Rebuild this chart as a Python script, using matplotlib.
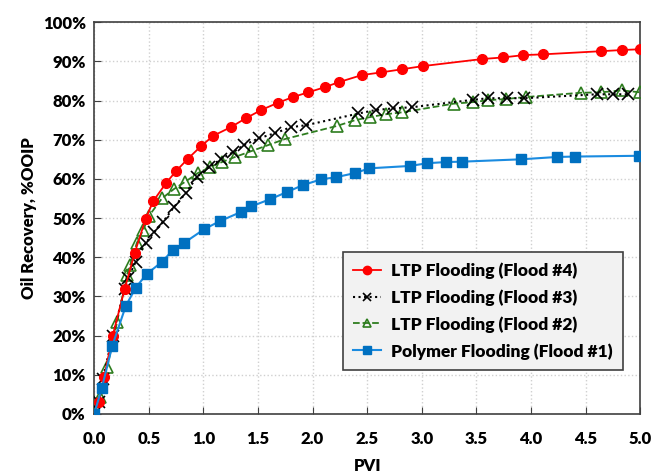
import matplotlib.pyplot as plt
from matplotlib.ticker import MultipleLocator, FuncFormatter

plt.rcParams['font.family'] = ['Lato', 'DejaVu Sans']
plt.rcParams['font.weight'] = 'heavy'

# Flood #4 (LTP)
pvi_4 = [0, 0.04, 0.09, 0.17, 0.28, 0.37, 0.47, 0.54, 0.66, 0.75, 0.86, 0.98, 1.09,
         1.25, 1.39, 1.53, 1.68, 1.82, 1.96, 2.11, 2.24, 2.45, 2.63, 2.82, 3.01,
         3.55, 3.74, 3.93, 4.11, 4.64, 4.83, 5.0]
rec_4 = [0, 3, 9.3, 20, 32, 41, 49.7, 54.3, 59, 62, 65.2, 68.4, 71,
         73.2, 75.5, 77.6, 79.4, 80.9, 82.1, 83.4, 84.7, 86.5, 87.2, 88, 88.8,
         90.6, 91, 91.6, 91.8, 92.6, 92.9, 93.1]

# Flood #3 (LTP)
pvi_3 = [0, 0.04, 0.08, 0.17, 0.28, 0.31, 0.38, 0.47, 0.55, 0.63, 0.73, 0.84, 0.94,
         1.05, 1.16, 1.27, 1.37, 1.51, 1.66, 1.80, 1.94, 2.42, 2.58, 2.74, 2.91,
         3.47, 3.61, 3.78, 3.94, 4.60, 4.75, 4.89]
rec_3 = [0, 3, 9, 20, 32, 34.7, 38.8, 43.6, 46.4, 49, 52.8, 56.4, 60.5,
         63, 65, 66.8, 68.6, 70.4, 71.7, 73.2, 73.7, 76.7, 77.6, 78, 78.3,
         80.2, 80.6, 80.6, 80.6, 81.6, 81.6, 81.6]

# Flood #2 (LTP)
pvi_2 = [0, 0.055, 0.12, 0.21, 0.30, 0.33, 0.39, 0.45, 0.50, 0.62, 0.73, 0.83, 0.95,
         1.06, 1.17, 1.29, 1.44, 1.59, 1.75, 2.22, 2.39, 2.53, 2.67, 2.82, 3.29,
         3.47, 3.61, 3.77, 3.95, 4.46, 4.64, 4.83, 5.0]
rec_2 = [0, 4.3, 12, 23.5, 35.5, 38, 43.6, 47, 50.5, 55, 57.4, 59.2, 61.5,
         63, 64.3, 65.6, 67.1, 68.6, 70.2, 73.5, 75, 75.8, 76.5, 77, 79.2,
         79.6, 80.1, 80.4, 80.9, 82, 82.1, 82.6, 82.1]

# Flood #1 (Polymer)
pvi_1 = [0, 0.07, 0.165, 0.29, 0.38, 0.48, 0.62, 0.72, 0.82, 1.01, 1.15, 1.34, 1.44,
         1.61, 1.77, 1.91, 2.08, 2.21, 2.39, 2.52, 2.89, 3.05, 3.22, 3.37, 3.91,
         4.24, 4.40, 4.99]
rec_1 = [0, 6.6, 17.3, 27.6, 32.2, 35.7, 38.8, 41.8, 43.6, 47.2, 49.2, 51.5, 53,
         54.8, 56.7, 58.4, 59.9, 60.4, 61.5, 62.7, 63.3, 64, 64.3, 64.4, 65,
         65.6, 65.7, 65.9]

fig = plt.figure(figsize=(6.54, 4.73), dpi=100)
ax = fig.add_axes([0.144, 0.125, 0.835, 0.828])

ax.plot(pvi_4, rec_4, color='#ff0000', lw=1.3, marker='o', ms=7, mfc='#ff0000',
        mec='#ff0000', label='LTP Flooding (Flood #4)', zorder=5)
ax.plot(pvi_3, rec_3, color='black', lw=1.5, ls=':', marker='x', ms=8, mew=1.2,
        label='LTP Flooding (Flood #3)', zorder=4)
ax.plot(pvi_2, rec_2, color='#2e7d1f', lw=1.3, ls='--', marker='^', ms=8, mfc='none',
        mec='#2e7d1f', mew=1.2, label='LTP Flooding (Flood #2)', zorder=3)
ax.plot(pvi_1, rec_1, color='#1a8be0', lw=1.5, marker='s', ms=6.5, mfc='#0070c0',
        mec='#0070c0', label='Polymer Flooding (Flood #1)', zorder=6)

ax.set_xlim(0, 5.0)
ax.set_ylim(0, 100)
ax.xaxis.set_major_locator(MultipleLocator(0.5))
ax.yaxis.set_major_locator(MultipleLocator(10))
ax.xaxis.set_major_formatter(FuncFormatter(lambda v, p: f'{v:.1f}'))
ax.yaxis.set_major_formatter(FuncFormatter(lambda v, p: f'{v:.0f}%'))
ax.tick_params(labelsize=12, direction='in', length=5, color='#404040', pad=6)
ax.tick_params(axis='x', pad=12)
ax.grid(True, color='#d0d0d0', ls=':', lw=1)
ax.set_axisbelow(True)
for s in ax.spines.values():
    s.set_color('#404040')
    s.set_linewidth(1.2)

ax.set_xlabel('PVI', fontsize=12, fontweight='heavy', labelpad=8)
ax.set_ylabel('Oil Recovery, %OOIP', fontsize=12, fontweight='heavy', labelpad=4)

leg = ax.legend(loc='lower right', bbox_to_anchor=(0.985, 0.09), fontsize=12.5,
                fancybox=False, framealpha=1, facecolor='#f2f2f2', edgecolor='#404040',
                handlelength=1.6, handletextpad=0.6, labelspacing=0.6, borderpad=0.6)
leg.get_frame().set_linewidth(1.2)
for h in leg.legend_handles:
    h.set_markersize(6)

fig.savefig('out.png', dpi=100)
